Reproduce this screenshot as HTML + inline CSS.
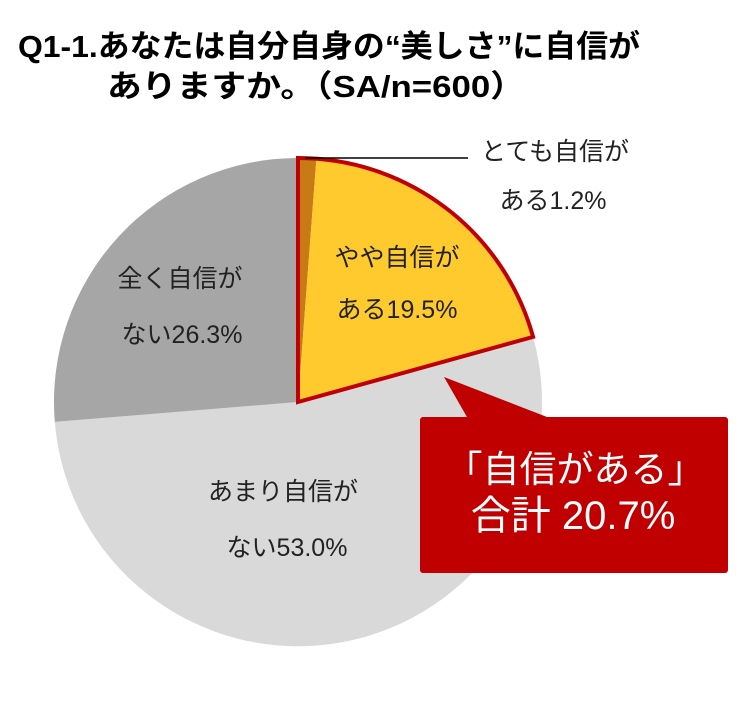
<!DOCTYPE html>
<html><head><meta charset="utf-8"><style>
body{margin:0;background:#fff;}
svg{display:block;font-family:"Liberation Sans","Noto Sans CJK JP",sans-serif;}
</style></head><body>
<svg width="746" height="718" viewBox="0 0 746 718">
<text x="18" y="57" font-size="31" font-weight="bold" fill="#000" textLength="622" lengthAdjust="spacingAndGlyphs">Q1-1.あなたは自分自身の“美しさ”に自信が</text>
<text x="107" y="97" font-size="31" font-weight="bold" fill="#000" textLength="418" lengthAdjust="spacingAndGlyphs">ありますか。（SA/n=600）</text>
<path d="M298,402 L533.1,336.9 A244,244 0 1 1 54.8,421.9 Z" fill="#d9d9d9"/>
<path d="M298,402 L54.8,421.9 A244,244 0 0 1 298,158 Z" fill="#a6a6a6"/>
<path d="M298,402 L298,158 A244,244 0 0 1 316.4,158.7 Z" fill="#c87a14"/>
<path d="M298,402 L316.4,158.7 A244,244 0 0 1 533.1,336.9 Z" fill="#ffca2e"/>
<path d="M298,402 L298,158 A244,244 0 0 1 533.1,336.9 Z" fill="none" stroke="#c00000" stroke-width="4" stroke-linejoin="miter"/>
<line x1="305" y1="158" x2="468" y2="158" stroke="#000" stroke-width="1.5"/>
<g font-size="25" fill="#222" text-anchor="middle">
<text x="555" y="160">とても自信が</text>
<text x="553" y="209">ある1.2%</text>
<text x="397" y="266">やや自信が</text>
<text x="397" y="318">ある19.5%</text>
<text x="180" y="287">全く自信が</text>
<text x="182" y="343">ない26.3%</text>
<text x="283" y="500">あまり自信が</text>
<text x="287" y="556">ない53.0%</text>
</g>
<path d="M444,377 L467,417 L547,417 Z" fill="#c00000"/>
<rect x="420" y="417" width="308" height="156" rx="3" fill="#c00000"/>
<text x="575" y="482" font-size="37" fill="#fff" text-anchor="middle">「自信がある」</text>
<text x="573" y="529" font-size="40" fill="#fff" text-anchor="middle">合計 20.7%</text>
</svg>
</body></html>
